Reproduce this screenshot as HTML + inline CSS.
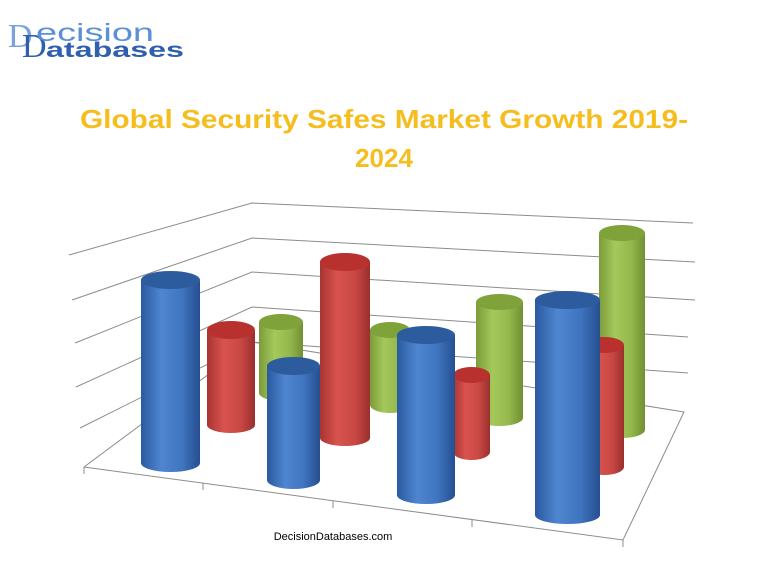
<!DOCTYPE html>
<html><head><meta charset="utf-8"><style>
html,body{margin:0;padding:0;background:#fff;width:768px;height:576px;overflow:hidden}
</style></head><body>
<svg width="768" height="576" viewBox="0 0 768 576" xmlns="http://www.w3.org/2000/svg">
<defs>
<linearGradient id="gb" x1="0" x2="1"><stop offset="0" stop-color="#2a5aa0"/><stop offset="0.35" stop-color="#4f86d0"/><stop offset="0.7" stop-color="#3f74bf"/><stop offset="1" stop-color="#254f8f"/></linearGradient>
<linearGradient id="gr" x1="0" x2="1"><stop offset="0" stop-color="#a83431"/><stop offset="0.35" stop-color="#d9534f"/><stop offset="0.7" stop-color="#c94844"/><stop offset="1" stop-color="#9a2f2c"/></linearGradient>
<linearGradient id="gg" x1="0" x2="1"><stop offset="0" stop-color="#7c9b3a"/><stop offset="0.35" stop-color="#a4c85a"/><stop offset="0.7" stop-color="#94b84c"/><stop offset="1" stop-color="#718f34"/></linearGradient>
</defs>
<!-- logo -->
<text x="8" y="47" font-family="Liberation Serif,serif" font-size="34" fill="#7aa2dc">D</text>
<text x="22" y="57" font-family="Liberation Serif,serif" font-size="34" fill="#2f5fae">D</text>
<text x="36" y="41" font-family="Liberation Sans,sans-serif" font-size="25" fill="#5b8fd6" textLength="118" lengthAdjust="spacingAndGlyphs">ecision</text>
<text x="46" y="57" font-family="Liberation Sans,sans-serif" font-weight="bold" font-size="21" fill="#2f5fae" textLength="138" lengthAdjust="spacingAndGlyphs">atabases</text>
<!-- title -->
<text x="80" y="128" font-family="Liberation Sans,sans-serif" font-weight="bold" font-size="26" fill="#F5BE1E" textLength="608" lengthAdjust="spacingAndGlyphs">Global Security Safes Market Growth 2019-</text>
<text x="384" y="167" text-anchor="middle" font-family="Liberation Sans,sans-serif" font-weight="bold" font-size="26" fill="#F5BE1E">2024</text>
<!-- grid -->
<g stroke="#8c8c8c" stroke-width="1" fill="none">
<polyline points="69,255 252,203 693,223"/>
<polyline points="72,300 252,238 695,262"/>
<polyline points="75,343 252,272 695,300"/>
<polyline points="76,387 252,307 688,337"/>
<polyline points="80,428 252,342 688,373"/>
<polyline points="84,467 252,342 684,412 623,540 84,467"/>
<line x1="84" y1="467" x2="84" y2="474"/>
<line x1="203" y1="483" x2="203" y2="490"/>
<line x1="333" y1="501" x2="333" y2="508"/>
<line x1="472" y1="520" x2="472" y2="527"/>
<line x1="623" y1="540" x2="623" y2="547"/>
</g>
<!-- cylinders: x, w, top, bottom -->
<g>
<!-- green row -->
<rect x="259" y="322" width="44" height="71" fill="url(#gg)"/><ellipse cx="281" cy="393" rx="22" ry="8" fill="url(#gg)"/><ellipse cx="281" cy="322" rx="22" ry="8" fill="#7fa33a"/>
<rect x="370" y="330" width="40" height="75" fill="url(#gg)"/><ellipse cx="390" cy="405" rx="20" ry="8" fill="url(#gg)"/><ellipse cx="390" cy="330" rx="20" ry="8" fill="#7fa33a"/>
<rect x="476" y="302" width="47" height="116" fill="url(#gg)"/><ellipse cx="499.5" cy="418" rx="23.5" ry="8" fill="url(#gg)"/><ellipse cx="499.5" cy="302" rx="23.5" ry="8" fill="#7fa33a"/>
<rect x="599" y="233" width="46" height="197" fill="url(#gg)"/><ellipse cx="622" cy="430" rx="23" ry="8" fill="url(#gg)"/><ellipse cx="622" cy="233" rx="23" ry="8" fill="#7fa33a"/>
<!-- red row -->
<rect x="207" y="330" width="48" height="95" fill="url(#gr)"/><ellipse cx="231" cy="425" rx="24" ry="8" fill="url(#gr)"/><ellipse cx="231" cy="330" rx="24" ry="9" fill="#b8312e"/>
<rect x="320" y="262" width="50" height="176" fill="url(#gr)"/><ellipse cx="345" cy="438" rx="25" ry="8" fill="url(#gr)"/><ellipse cx="345" cy="262" rx="25" ry="9" fill="#b8312e"/>
<rect x="453" y="375" width="37" height="77" fill="url(#gr)"/><ellipse cx="471.5" cy="452" rx="18.5" ry="8" fill="url(#gr)"/><ellipse cx="471.5" cy="375" rx="18.5" ry="8" fill="#b8312e"/>
<rect x="584" y="345" width="40" height="122" fill="url(#gr)"/><ellipse cx="604" cy="467" rx="20" ry="8" fill="url(#gr)"/><ellipse cx="604" cy="345" rx="20" ry="8" fill="#b8312e"/>
<!-- blue row -->
<rect x="141" y="280" width="59" height="183" fill="url(#gb)"/><ellipse cx="170.5" cy="463" rx="29.5" ry="9" fill="url(#gb)"/><ellipse cx="170.5" cy="280" rx="29.5" ry="9" fill="#2c5c9e"/>
<rect x="267" y="366" width="53" height="114" fill="url(#gb)"/><ellipse cx="293.5" cy="480" rx="26.5" ry="9" fill="url(#gb)"/><ellipse cx="293.5" cy="366" rx="26.5" ry="9" fill="#2c5c9e"/>
<rect x="397" y="335" width="58" height="160" fill="url(#gb)"/><ellipse cx="426" cy="495" rx="29" ry="9" fill="url(#gb)"/><ellipse cx="426" cy="335" rx="29" ry="9" fill="#2c5c9e"/>
<rect x="535" y="300" width="65" height="215" fill="url(#gb)"/><ellipse cx="567.5" cy="515" rx="32.5" ry="9" fill="url(#gb)"/><ellipse cx="567.5" cy="300" rx="32.5" ry="9" fill="#2c5c9e"/>
</g>
<text x="333" y="540" text-anchor="middle" font-family="Liberation Sans,sans-serif" font-size="11" fill="#000">DecisionDatabases.com</text>
</svg>
</body></html>
